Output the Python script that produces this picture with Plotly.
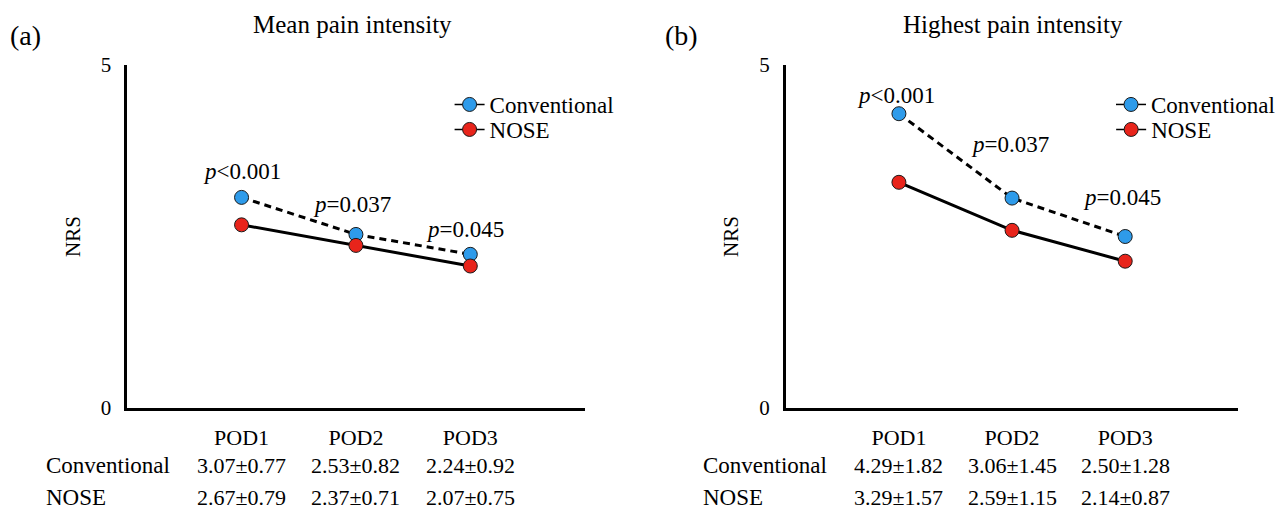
import plotly.graph_objects as go

# ---- data ----
days = ["POD1", "POD2", "POD3"]
xpos = [1, 2, 3]

mean_conv = [3.07, 2.53, 2.24]
mean_conv_sd = [0.77, 0.82, 0.92]
mean_nose = [2.67, 2.37, 2.07]
mean_nose_sd = [0.79, 0.71, 0.75]

high_conv = [4.29, 3.06, 2.50]
high_conv_sd = [1.82, 1.45, 1.28]
high_nose = [3.29, 2.59, 2.14]
high_nose_sd = [1.57, 1.15, 0.87]

p_labels = ["<i>p</i>&lt;0.001", "<i>p</i>=0.037", "<i>p</i>=0.045"]
p_offsets_a = [0.38, 0.43, 0.36]
p_offsets_b = [0.27, 0.78, 0.57]
p_xshift_a = [0.0, -0.03, -0.05]
p_xshift_b = [-0.03, -0.02, -0.03]

panel_titles = ["Mean pain intensity", "Highest pain intensity"]
panel_tags = ["(a)", "(b)"]
group_names = ["Conventional", "NOSE"]

# ---- style ----
FONT = "Liberation Serif"
BLUE = "#2E9BEA"
RED = "#E8241B"
W, H = 1280, 509

fig = go.Figure()

def add_panel(xa, ya, conv, nose, legends):
    fig.add_trace(go.Scatter(
        x=xpos, y=conv, xaxis=xa, yaxis=ya, mode="lines+markers",
        line=dict(color="black", width=3, dash="7px,5px"),
        marker=dict(size=14, color=BLUE, line=dict(color="#1a1a1a", width=1)),
        showlegend=False))
    fig.add_trace(go.Scatter(
        x=xpos, y=nose, xaxis=xa, yaxis=ya, mode="lines+markers",
        line=dict(color="black", width=3),
        marker=dict(size=14, color=RED, line=dict(color="#1a1a1a", width=1)),
        showlegend=False))
    for name, col, lg in zip(group_names, [BLUE, RED], legends):
        fig.add_trace(go.Scatter(
            x=[None], y=[None], xaxis=xa, yaxis=ya, mode="lines+markers",
            name=name, legend=lg,
            line=dict(color="black", width=1.5),
            marker=dict(size=14, color=col, line=dict(color="#1a1a1a", width=1))))

add_panel("x", "y", mean_conv, mean_nose, ["legend", "legend2"])
add_panel("x2", "y2", high_conv, high_nose, ["legend3", "legend4"])

dom_a = [129 / W, 593 / W]
dom_b = [797 / W, 1256 / W]
ydom = [(H - 408) / H, (H - 65) / H]

axis_common_x = dict(range=[0, 4], showline=True, linewidth=2.5, linecolor="black",
                     showgrid=False, zeroline=False, ticks="",
                     tickvals=xpos, ticktext=days, ticklabelstandoff=8,
                     tickfont=dict(family=FONT, size=22, color="black"))
axis_common_y = dict(range=[0, 5], showline=True, linewidth=2.5, linecolor="black",
                     showgrid=False, zeroline=False, ticks="",
                     tickvals=[0, 5], ticklabelstandoff=9,
                     tickfont=dict(family=FONT, size=21, color="black"),
                     title=dict(text="NRS", standoff=15,
                                font=dict(family=FONT, size=21, color="black")))

def leg(xpx, ypx):
    return dict(x=xpx / W, y=(H - ypx) / H, xanchor="left", yanchor="top",
                bgcolor="rgba(0,0,0,0)",
                font=dict(family=FONT, size=23, color="black"))

fig.update_layout(
    width=W, height=H, template="none",
    margin=dict(l=0, r=0, t=0, b=0),
    paper_bgcolor="white", plot_bgcolor="white",
    font=dict(family=FONT, size=22, color="black"),
    xaxis=dict(domain=dom_a, anchor="y", **axis_common_x),
    yaxis=dict(domain=ydom, anchor="x", **axis_common_y),
    xaxis2=dict(domain=dom_b, anchor="y2", **axis_common_x),
    yaxis2=dict(domain=ydom, anchor="x2", **axis_common_y),
    legend=leg(456, 83),
    legend2=leg(456, 108),
    legend3=leg(1127, 83),
    legend4=leg(1127, 108),
)

ann = []
# p-value labels
for i in range(3):
    ann.append(dict(x=xpos[i] + p_xshift_a[i], y=mean_conv[i] + p_offsets_a[i], xref="x", yref="y",
                    text=p_labels[i], showarrow=False, font=dict(family=FONT, size=23)))
    ann.append(dict(x=xpos[i] + p_xshift_b[i], y=high_conv[i] + p_offsets_b[i], xref="x2", yref="y2",
                    text=p_labels[i], showarrow=False, font=dict(family=FONT, size=23)))

# titles and tags
for title, tag, cx, tx in zip(panel_titles, panel_tags, [358 / W, 1027 / W], [8 / W, 672 / W]):
    ann.append(dict(x=cx, y=(H - 25) / H, xref="paper", yref="paper", text=title,
                    showarrow=False, xanchor="center", yanchor="middle",
                    font=dict(family=FONT, size=25)))
    ann.append(dict(x=tx, y=(H - 35) / H, xref="paper", yref="paper", text=tag,
                    showarrow=False, xanchor="left", yanchor="middle",
                    font=dict(family=FONT, size=28)))

# table below axes
row_y = [(H - 465) / H, (H - 497) / H]
tables = [
    ("x", 45 / W, [mean_conv, mean_nose], [mean_conv_sd, mean_nose_sd]),
    ("x2", 711 / W, [high_conv, high_nose], [high_conv_sd, high_nose_sd]),
]
for xref, lx, means, sds in tables:
    for r in range(2):
        ann.append(dict(x=lx, y=row_y[r], xref="paper", yref="paper", text=group_names[r],
                        showarrow=False, xanchor="left", yanchor="middle",
                        font=dict(family=FONT, size=23)))
        for i in range(3):
            ann.append(dict(x=xpos[i], y=row_y[r], xref=xref, yref="paper",
                            text=f"{means[r][i]:.2f}±{sds[r][i]:.2f}",
                            showarrow=False, xanchor="center", yanchor="middle",
                            font=dict(family=FONT, size=22)))

fig.update_layout(annotations=ann)
fig.write_html("out.html", config={"displayModeBar": False},
               post_script="document.body.style.margin='0';document.body.style.overflow='hidden';")
